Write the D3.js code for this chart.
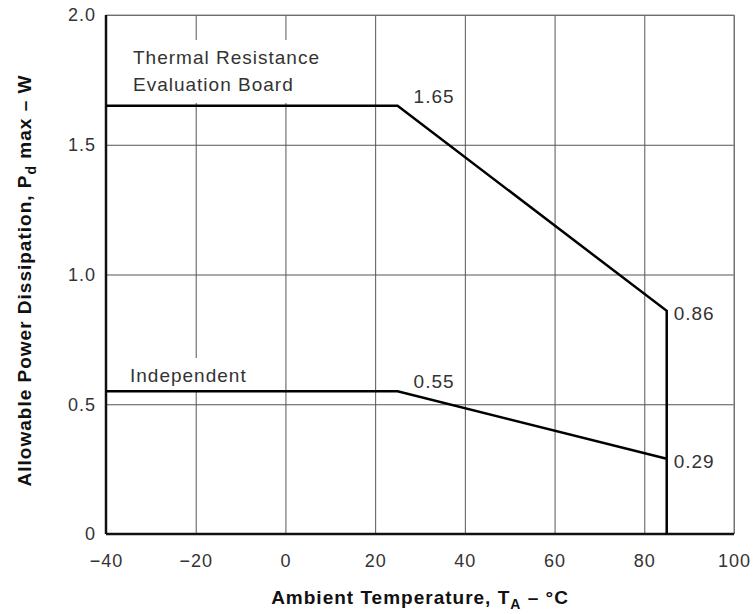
<!DOCTYPE html>
<html>
<head>
<meta charset="utf-8">
<script src="https://cdn.jsdelivr.net/npm/d3@7"></script>
<style>
  body { margin: 0; background: #fff; }
  text { font-family: "Liberation Sans", Arial, sans-serif; }
</style>
</head>
<body>
<div id="chart-container"></div>
<script>
// data
const xTicks = [-40, -20, 0, 20, 40, 60, 80, 100];
const yTicks = [0, 0.5, 1.0, 1.5, 2.0];

const boardTemp = [-40, 25, 85, 85];
const boardPower = [1.65, 1.65, 0.86, 0];
const indepTemp = [-40, 25, 85];
const indepPower = [0.55, 0.55, 0.29];

const valueLabels = [
  { t: 25, p: 1.65, text: "1.65" },
  { t: 25, p: 0.55, text: "0.55" },
  { t: 85, p: 0.86, text: "0.86" },
  { t: 85, p: 0.29, text: "0.29" }
];

const margin = { top: 15, right: 19, bottom: 80, left: 106 };
const width = 753 - margin.left - margin.right;
const height = 614 - margin.top - margin.bottom;

const svg = d3.select("#chart-container")
  .append("svg")
  .attr("width", 753)
  .attr("height", 614);

const g = svg.append("g")
  .attr("transform", `translate(${margin.left},${margin.top})`);

const x = d3.scaleLinear().domain([-40, 100]).range([0, width]);
const y = d3.scaleLinear().domain([0, 2]).range([height, 0]);

// grid
const xGrid = g.append("g")
  .attr("transform", `translate(0,${height})`)
  .call(d3.axisBottom(x).tickValues(xTicks).tickSize(-height).tickFormat(""));
xGrid.select(".domain").remove();
xGrid.selectAll("line").attr("stroke", "#555").attr("stroke-width", 1);

const yGrid = g.append("g")
  .call(d3.axisLeft(y).tickValues(yTicks).tickSize(-width).tickFormat(""));
yGrid.select(".domain").remove();
yGrid.selectAll("line").attr("stroke", "#555").attr("stroke-width", 1);

// top / right frame
g.append("line").attr("x1", 0).attr("x2", width).attr("y1", 0).attr("y2", 0)
  .attr("stroke", "#888").attr("stroke-width", 1.2);
g.append("line").attr("x1", width).attr("x2", width).attr("y1", 0).attr("y2", height)
  .attr("stroke", "#888").attr("stroke-width", 1.2);

// label boxes blank out the grid behind the curve names
g.append("rect").attr("x", 22).attr("y", 25).attr("width", 205).attr("height", 63).attr("fill", "#fff");
g.append("rect").attr("x", 20).attr("y", 343).attr("width", 128).attr("height", 32).attr("fill", "#fff");

// axes lines
g.append("line").attr("x1", 0).attr("x2", 0).attr("y1", 0).attr("y2", height)
  .attr("stroke", "#111").attr("stroke-width", 2.5);
g.append("line").attr("x1", 0).attr("x2", width).attr("y1", height).attr("y2", height)
  .attr("stroke", "#111").attr("stroke-width", 2.5);

// tick labels
const xAxis = g.append("g")
  .attr("transform", `translate(0,${height})`)
  .call(d3.axisBottom(x).tickValues(xTicks).tickSize(0).tickPadding(20));
xAxis.select(".domain").remove();
xAxis.selectAll("text")
  .attr("font-size", 18).attr("letter-spacing", 1).attr("fill", "#333")
  .style("font-family", "Liberation Sans, Arial, sans-serif");

const yAxis = g.append("g")
  .call(d3.axisLeft(y).tickValues(yTicks).tickSize(0).tickPadding(10)
    .tickFormat(d => d === 0 ? "0" : d.toFixed(1)));
yAxis.select(".domain").remove();
yAxis.selectAll("text")
  .attr("font-size", 18).attr("letter-spacing", 1).attr("fill", "#333")
  .style("font-family", "Liberation Sans, Arial, sans-serif");

// curves
const line = d3.line().x(d => x(d[0])).y(d => y(d[1]));
const boardPts = boardTemp.map((t, i) => [t, boardPower[i]]);
const indepPts = indepTemp.map((t, i) => [t, indepPower[i]]);

g.append("path").datum(boardPts).attr("d", line)
  .attr("fill", "none").attr("stroke", "#000").attr("stroke-width", 2.5);
g.append("path").datum(indepPts).attr("d", line)
  .attr("fill", "none").attr("stroke", "#000").attr("stroke-width", 2.5);

// value labels
g.selectAll(".val")
  .data(valueLabels)
  .join("text")
  .attr("class", "val")
  .attr("x", d => x(d.t) + (d.t === 85 ? 7 : 16))
  .attr("y", d => y(d.p) + (d.t === 85 ? 9 : -3))
  .attr("font-size", 19).attr("letter-spacing", 1).attr("fill", "#333")
  .text(d => d.text);

// curve names
const names = g.append("g").attr("font-size", 19).attr("letter-spacing", 1).attr("fill", "#333");
names.append("text").attr("x", 27).attr("y", 49).text("Thermal Resistance");
names.append("text").attr("x", 27).attr("y", 76).text("Evaluation Board");
names.append("text").attr("x", 24).attr("y", 367).text("Independent");

// axis titles
const xt = svg.append("text")
  .attr("x", margin.left + x(30)).attr("y", 604)
  .attr("text-anchor", "middle")
  .attr("font-size", 19).attr("font-weight", "bold").attr("letter-spacing", 1).attr("fill", "#111");
xt.append("tspan").text("Ambient Temperature, T");
xt.append("tspan").attr("font-size", 14).attr("dy", 5).text("A");
xt.append("tspan").attr("dy", -5).text(" \u2013 \u00B0C");

const yt = svg.append("text")
  .attr("transform", `translate(31,${margin.top + height / 2 + 6}) rotate(-90)`)
  .attr("text-anchor", "middle")
  .attr("font-size", 19).attr("font-weight", "bold").attr("letter-spacing", 1).attr("fill", "#111");
yt.append("tspan").text("Allowable Power Dissipation, P");
yt.append("tspan").attr("font-size", 14).attr("dy", 5).text("d");
yt.append("tspan").attr("dy", -5).text(" max \u2013 W");
</script>
</body>
</html>
